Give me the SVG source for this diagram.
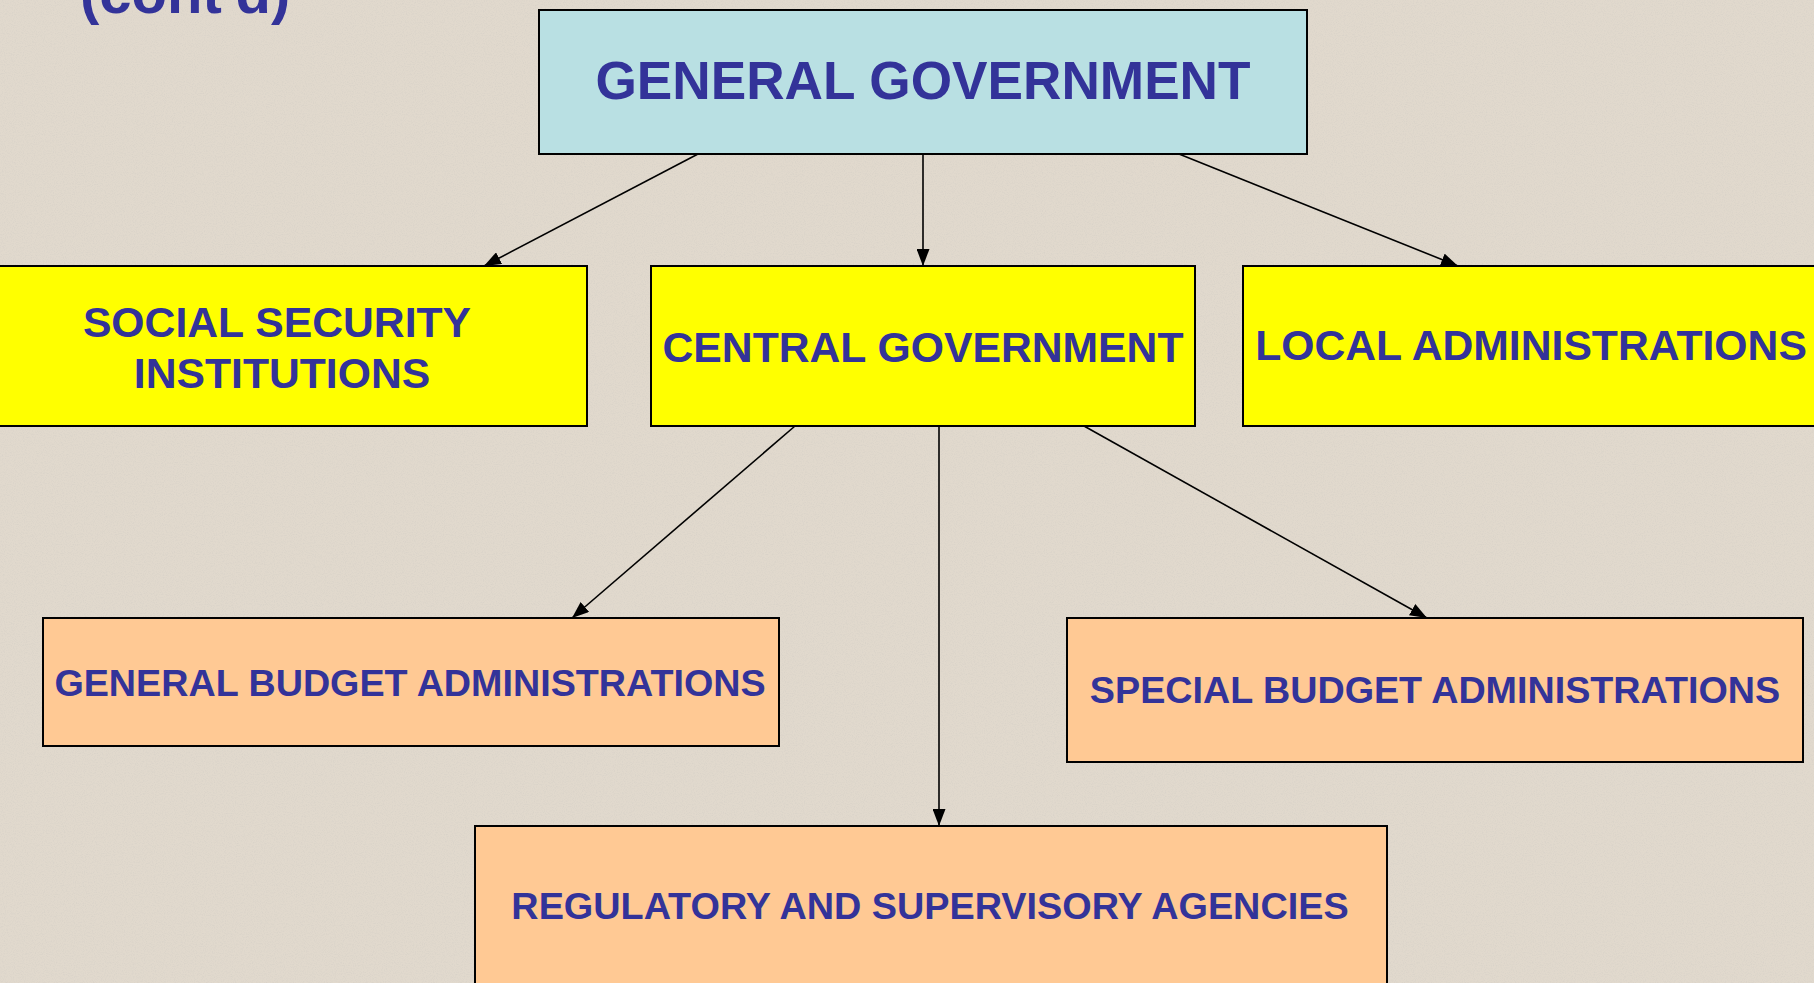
<svg xmlns="http://www.w3.org/2000/svg" width="1814" height="983" viewBox="0 0 1814 983">
<style>
.box{stroke:#000;stroke-width:2}
.gg{fill:#b9e0e3}
.yl{fill:#ffff00}
.pc{fill:#ffc994}
.t{font-family:"Liberation Sans",Arial,sans-serif;font-weight:bold;fill:#333399;text-anchor:middle}
.c{stroke:#000;stroke-width:1.6;fill:none;marker-end:url(#ah)}
</style>
<defs>
<marker id="ah" viewBox="0 0 17 13" refX="17" refY="6.5" markerWidth="17" markerHeight="13" markerUnits="userSpaceOnUse" orient="auto">
<path d="M0,0 L17,6.5 L0,13 Z" fill="#000"/>
</marker>
<filter id="noise" x="0" y="0" width="100%" height="100%">
<feTurbulence type="fractalNoise" baseFrequency="0.9" numOctaves="2" seed="3" result="n"/>
<feColorMatrix type="matrix" values="0 0 0 0 0.6  0 0 0 0 0.58  0 0 0 0 0.54  0 0 0 -2.2 1.25" in="n"/>
</filter>
</defs>
<rect x="0" y="0" width="1814" height="983" fill="#e1d9cd"/>
<rect x="0" y="0" width="1814" height="983" filter="url(#noise)" opacity="0.35"/>
<text class="t" x="80" y="13" font-size="58" style="text-anchor:start">(cont'd)</text>
<g id="connectors">
<line class="c" x1="698" y1="154" x2="484" y2="266"/>
<line class="c" x1="923" y1="154" x2="923" y2="266"/>
<line class="c" x1="1179" y1="154" x2="1458" y2="266"/>
<line class="c" x1="795" y1="426" x2="572" y2="618"/>
<line class="c" x1="939" y1="426" x2="939" y2="826"/>
<line class="c" x1="1084" y1="426" x2="1427" y2="618"/>
</g>
<g id="general-government">
<rect class="box gg" x="539" y="10" width="768" height="144"/>
<text class="t" x="923" y="99" font-size="53.2">GENERAL GOVERNMENT</text>
</g>
<g id="social-security">
<rect class="box yl" x="-33" y="266" width="620" height="160"/>
<text class="t" x="277" y="337" font-size="42.7">SOCIAL SECURITY</text>
<text class="t" x="282" y="388" font-size="42.7">INSTITUTIONS</text>
</g>
<g id="central-government">
<rect class="box yl" x="651" y="266" width="544" height="160"/>
<text class="t" x="923" y="362" font-size="42.7">CENTRAL GOVERNMENT</text>
</g>
<g id="local-administrations">
<rect class="box yl" x="1243" y="266" width="600" height="160"/>
<text class="t" x="1531" y="360" font-size="42.7">LOCAL ADMINISTRATIONS</text>
</g>
<g id="general-budget">
<rect class="box pc" x="43" y="618" width="736" height="128"/>
<text class="t" x="410" y="696" font-size="37.7">GENERAL BUDGET ADMINISTRATIONS</text>
</g>
<g id="special-budget">
<rect class="box pc" x="1067" y="618" width="736" height="144"/>
<text class="t" x="1435" y="703" font-size="37.7">SPECIAL BUDGET ADMINISTRATIONS</text>
</g>
<g id="regulatory">
<rect class="box pc" x="475" y="826" width="912" height="180"/>
<text class="t" x="930" y="919" font-size="37.8">REGULATORY AND SUPERVISORY AGENCIES</text>
</g>
</svg>
